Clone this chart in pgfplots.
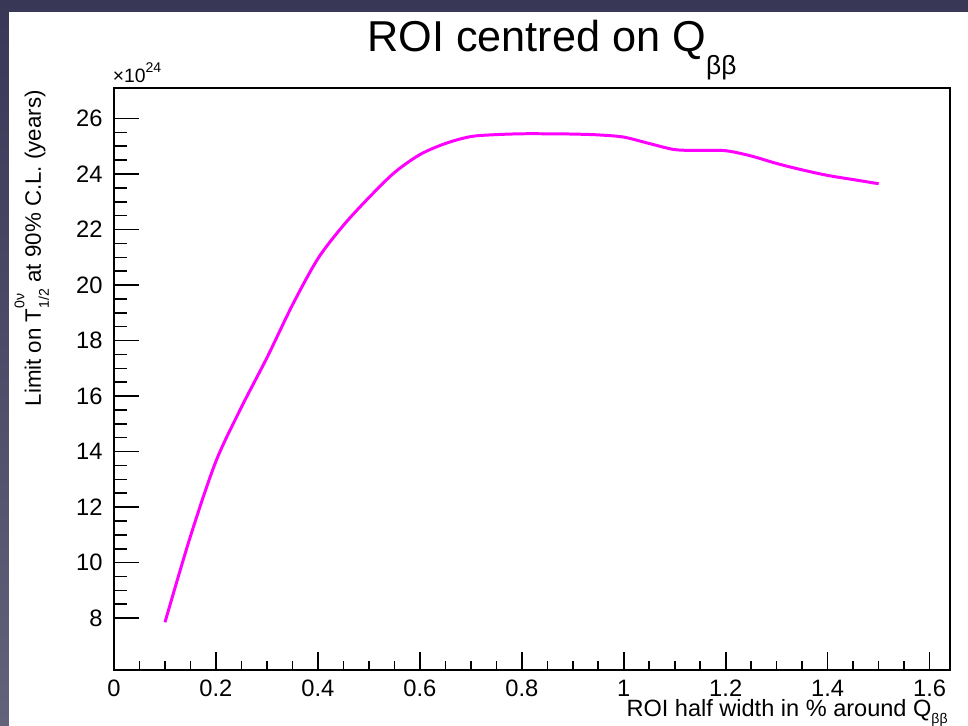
\documentclass[border=0pt]{standalone}
\usepackage{fontspec}
\setmainfont{Liberation Sans}
\usepackage{pgfplots}
\pgfplotsset{compat=1.18}

\definecolor{slidetop}{RGB}{56,55,86}
\definecolor{slidebot}{RGB}{98,98,122}
\definecolor{curve}{RGB}{255,0,255}

\pgfplotsset{
  frame/.style={
    at={(2.28cm,1.12cm)}, anchor=south west,
    width=16.72cm, height=11.64cm, scale only axis,
    xmin=0, xmax=1.64,
    ymin=6.13, ymax=27.1,
    tick align=inside,
    tick pos=left,
    axis line style={line width=0.9pt},
    every tick/.style={black, line width=0.9pt},
    /pgf/number format/assume math mode=true,
    tick label style={font=\fontsize{13.5}{14}\selectfont},
  }
}

\begin{document}
\begin{tikzpicture}
% slide background and white canvas (1 px of the reference = 0.02 cm)
\useasboundingbox (0,0) rectangle (19.36,14.52);
\shade[top color=slidetop, bottom color=slidebot] (0,0) rectangle (19.36,14.52);
\fill[white] (0.18,0) rectangle (19.36,14.28);

% frame, x ticks and the curve
\begin{axis}[
    frame,
    xtick={0,0.2,...,1.6},
    ytick=\empty,
    minor x tick num=3,
    major tick length=0.36cm,
    minor tick length=0.18cm,
    xticklabel style={yshift=-2pt},
    xticklabel={\pgfmathprintnumber[fixed, precision=1]{\tick}},
  ]
  \addplot[curve, line width=1.7pt, smooth, tension=0.5] coordinates {
    (0.10,7.85) (0.15,10.95) (0.20,13.65) (0.25,15.60) (0.30,17.38)
    (0.35,19.28) (0.40,20.95) (0.45,22.15) (0.50,23.15) (0.55,24.05)
    (0.60,24.70) (0.65,25.10) (0.70,25.35) (0.75,25.42) (0.80,25.45)
    (0.85,25.45) (0.90,25.44) (0.95,25.41) (1.00,25.33) (1.05,25.10)
    (1.10,24.88) (1.15,24.85) (1.20,24.84) (1.25,24.65) (1.30,24.38)
    (1.35,24.15) (1.40,23.95) (1.45,23.80) (1.50,23.65)
  };
\end{axis}

% y ticks, which are longer than the x ones
\begin{axis}[
    frame,
    hide x axis,
    axis y line*=left,
    axis line style={-, line width=0.9pt},
    ytick={8,10,...,26},
    minor y tick num=3,
    major tick length=0.5cm,
    minor tick length=0.25cm,
    yticklabel style={xshift=-3pt},
  ]
\end{axis}

% title
\node[anchor=base west, inner sep=0pt, font=\fontsize{24.6}{25}\selectfont]
  at (7.34,13.48) {ROI centred on Q\raisebox{-0.52em}{\fontsize{15}{15}\selectfont ββ}};
% exponent of the y axis
\node[anchor=base west, inner sep=0pt, font=\fontsize{11}{11}\selectfont]
  at (2.25,12.86) {×10\raisebox{0.55em}{\fontsize{8}{8}\selectfont 24}};
% x axis title
\node[anchor=base east, inner sep=0pt, font=\fontsize{13.4}{14}\selectfont]
  at (18.96,0.18) {ROI half width in \% around Q\raisebox{-0.28em}{\fontsize{8}{8}\selectfont ββ}};
% y axis title
\node[anchor=base east, rotate=90, inner sep=0pt, font=\fontsize{12.7}{13}\selectfont]
  at (0.82,12.72) {Limit on T\rlap{\raisebox{0.75em}{\fontsize{8}{8}\selectfont 0ν}}\raisebox{-0.35em}{\fontsize{8}{8}\selectfont 1/2} at 90\% C.L. (years)};
\end{tikzpicture}
\end{document}
